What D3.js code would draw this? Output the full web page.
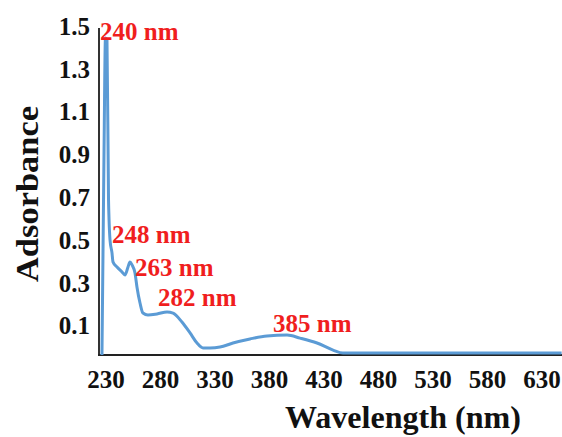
<!DOCTYPE html>
<html>
<head>
<meta charset="utf-8">
<script src="https://cdn.jsdelivr.net/npm/d3@7"></script>
<style>
  body { margin: 0; background: #fff; }
  text { font-family: "Liberation Serif", "Times New Roman", serif; font-weight: bold; }
</style>
</head>
<body>
<script>
// wavelength (nm), absorbance
const wavelength = [226.3, 228.2, 229.5, 230.9, 232.3, 232.8, 233.7, 235.5, 236.4, 240.1, 244.7, 247.4,
  250.2, 252.0, 253.9, 256.6, 258.4, 261.2, 263.9, 268.5, 276.8, 286.0, 291.5, 299.7, 307.1, 313.5,
  319.0, 325.4, 334.6, 346.5, 362.1, 377.7, 396.1, 408.0, 423.6, 438.3, 447.4, 500, 560, 648];
const absorbance = [-0.028, 0.93, 1.453, 1.444, 0.70, 0.603, 0.509, 0.449, 0.407, 0.383, 0.360, 0.346,
  0.383, 0.407, 0.393, 0.355, 0.290, 0.215, 0.168, 0.159, 0.164, 0.173, 0.168, 0.126, 0.075, 0.028,
  0.005, 0.005, 0.009, 0.028, 0.047, 0.061, 0.065, 0.051, 0.028, -0.005, -0.019, -0.019, -0.019, -0.019];

const xTicks = [230, 280, 330, 380, 430, 480, 530, 580, 630];
const yTicks = [0.1, 0.3, 0.5, 0.7, 0.9, 1.1, 1.3, 1.5];

// peak labels: text and where it sits (nm, absorbance)
const peakText = ["240 nm", "248 nm", "263 nm", "282 nm", "385 nm"];
const peakX = [224.5, 235.5, 256.6, 277.7, 383.2];
const peakY = [1.444, 0.495, 0.341, 0.201, 0.079];

const largura = 562, altura = 437;
const caixa = { e: 99, d: 562, c: 28, b: 355 };

const svg = d3.select("body").append("svg")
  .attr("width", largura)
  .attr("height", altura);

const x = d3.scaleLinear().domain([230, 630]).range([106, 542]);
const y = d3.scaleLinear().domain([0.1, 1.5]).range([327.6, 28]);

// axis lines (no tick marks)
svg.append("line")
  .attr("x1", caixa.e).attr("x2", caixa.e)
  .attr("y1", caixa.c).attr("y2", caixa.b)
  .attr("stroke", "#333").attr("stroke-width", 2);
svg.append("line")
  .attr("x1", caixa.e - 1).attr("x2", caixa.d)
  .attr("y1", caixa.b).attr("y2", caixa.b)
  .attr("stroke", "#222").attr("stroke-width", 2);

// tick labels
svg.append("g").selectAll("text")
  .data(xTicks)
  .enter()
  .append("text")
  .attr("x", d => x(d))
  .attr("y", 388)
  .attr("text-anchor", "middle")
  .attr("font-size", 25)
  .attr("fill", "#111")
  .text(d => d);

svg.append("g").selectAll("text")
  .data(yTicks)
  .enter()
  .append("text")
  .attr("x", 90)
  .attr("y", d => y(d))
  .attr("dy", "0.27em")
  .attr("text-anchor", "end")
  .attr("font-size", 25)
  .attr("fill", "#111")
  .text(d => d3.format(".1f")(d));

// axis titles
svg.append("text")
  .attr("x", 403)
  .attr("y", 428)
  .attr("text-anchor", "middle")
  .attr("font-size", 31)
  .attr("textLength", 236)
  .attr("lengthAdjust", "spacingAndGlyphs")
  .attr("fill", "#111")
  .text("Wavelength (nm)");

svg.append("text")
  .attr("transform", "translate(38,194) rotate(-90)")
  .attr("text-anchor", "middle")
  .attr("font-size", 31)
  .attr("textLength", 176)
  .attr("lengthAdjust", "spacingAndGlyphs")
  .attr("fill", "#111")
  .text("Adsorbance");

// spectrum
const pontos = wavelength.map((w, i) => [w, absorbance[i]]);
const linha = d3.line()
  .x(d => x(d[0]))
  .y(d => y(d[1]))
  .curve(d3.curveMonotoneX);

svg.append("path")
  .datum(pontos)
  .attr("d", linha)
  .attr("fill", "none")
  .attr("stroke", "#5b9bd5")
  .attr("stroke-width", 3)
  .attr("stroke-linejoin", "round");

// peak labels
svg.append("g").selectAll("text")
  .data(peakText)
  .enter()
  .append("text")
  .attr("x", (d, i) => x(peakX[i]))
  .attr("y", (d, i) => y(peakY[i]))
  .attr("font-size", 25)
  .attr("fill", "#f01e1e")
  .text(d => d);
</script>
</body>
</html>
